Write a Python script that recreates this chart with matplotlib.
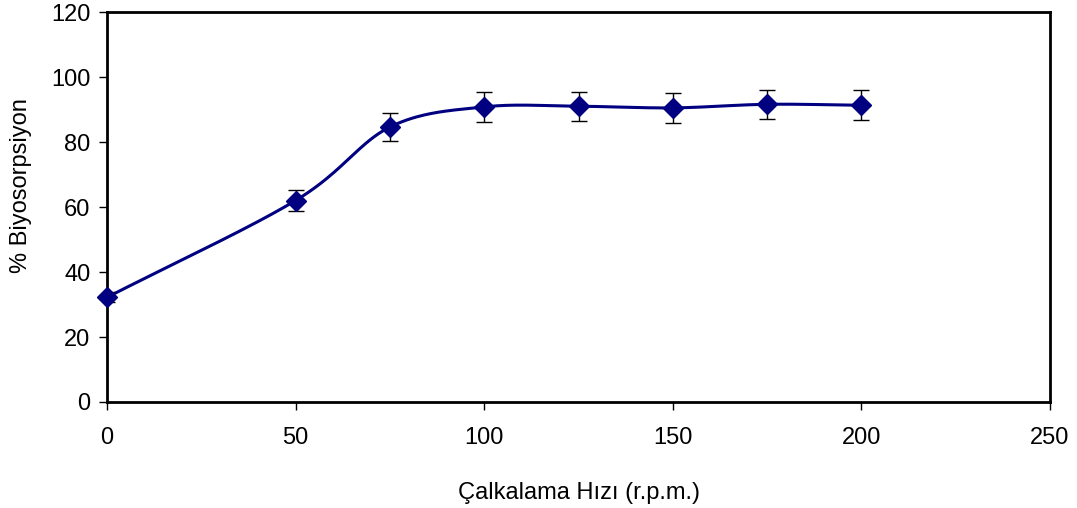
import numpy as np
import matplotlib
matplotlib.use('Agg')
import matplotlib.pyplot as plt

plt.rcParams['font.family'] = ['Liberation Sans', 'DejaVu Sans']

# data
speed = [0, 50, 75, 100, 125, 150, 175, 200]
biosorption = [32.2, 62.0, 84.6, 90.8, 91.0, 90.5, 91.6, 91.3]
err = [1.5, 3.1, 4.3, 4.6, 4.5, 4.6, 4.5, 4.6]

x_ticks = [0, 50, 100, 150, 200, 250]
y_ticks = [0, 20, 40, 60, 80, 100, 120]
x_label = 'Çalkalama Hızı (r.p.m.)'
y_label = '% Biyosorpsiyon'

line_color = '#000080'


def smooth_line(x, y, n=40):
    # Catmull-Rom style smoothing, like a spreadsheet "smoothed line"
    x = np.asarray(x, float)
    y = np.asarray(y, float)
    px = np.concatenate([[2 * x[0] - x[1]], x, [2 * x[-1] - x[-2]]])
    py = np.concatenate([[2 * y[0] - y[1]], y, [2 * y[-1] - y[-2]]])
    xs, ys = [], []
    t = np.linspace(0, 1, n)
    for i in range(1, len(px) - 2):
        for p, out in ((px, xs), (py, ys)):
            p0, p1, p2, p3 = p[i - 1], p[i], p[i + 1], p[i + 2]
            out.append(0.5 * ((2 * p1) + (-p0 + p2) * t
                              + (2 * p0 - 5 * p1 + 4 * p2 - p3) * t ** 2
                              + (-p0 + 3 * p1 - 3 * p2 + p3) * t ** 3))
    return np.concatenate(xs), np.concatenate(ys)


fig = plt.figure(figsize=(10.77, 5.08), dpi=100)
ax = fig.add_axes([107 / 1077, 1 - 402 / 508, (1050 - 107) / 1077, (402 - 12) / 508])

sx, sy = smooth_line(speed, biosorption)
ax.plot(sx, sy, color=line_color, lw=2.2, zorder=2)
ax.errorbar(speed, biosorption, yerr=err, fmt='none', ecolor='black',
            elinewidth=1, capsize=6, capthick=1, zorder=3)
ax.plot(speed, biosorption, 'D', color=line_color, markersize=10, zorder=4,
        clip_on=False)

ax.set_xlim(0, 250)
ax.set_ylim(0, 120)
ax.set_xticks(x_ticks)
ax.set_yticks(y_ticks)
ax.tick_params(direction='out', length=6, width=1, labelsize=17, pad=6)
ax.tick_params(axis='x', pad=12)
for s in ax.spines.values():
    s.set_linewidth(2)
    s.set_color('black')

ax.set_xlabel(x_label, fontsize=17, labelpad=24)
ax.set_ylabel(y_label, fontsize=17)
ax.yaxis.set_label_coords(-0.08, 0.556)

fig.savefig('out.png', dpi=100)
